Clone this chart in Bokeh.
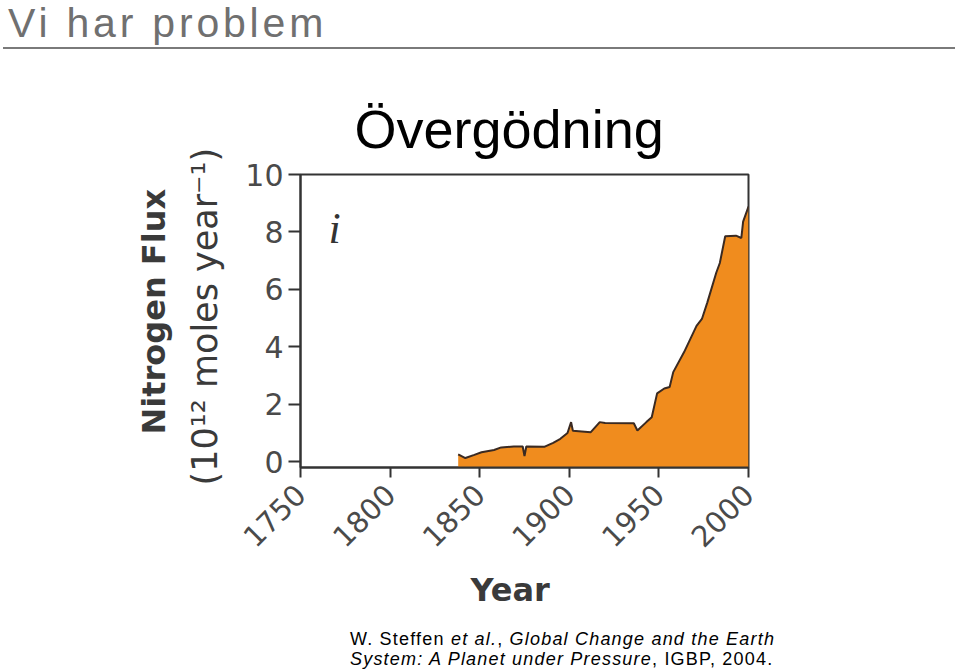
from math import pi
from bokeh.plotting import figure
from bokeh.models import Label, Div, FixedTicker, Range1d, Title
from bokeh.layouts import column
from bokeh.embed import file_html
from bokeh.resources import INLINE

# ---- data ----
years = [1838, 1842, 1847, 1851, 1858, 1862, 1869, 1874, 1875, 1876, 1886, 1891,
         1895, 1899, 1901, 1902, 1912, 1917, 1920, 1936, 1938, 1943, 1946, 1949,
         1953, 1956, 1958, 1964, 1971, 1974, 1977, 1982, 1984, 1987, 1993, 1996,
         1997, 2000]
flux = [0.26, 0.13, 0.24, 0.33, 0.41, 0.50, 0.53, 0.53, 0.20, 0.53, 0.52, 0.66,
        0.80, 1.00, 1.38, 1.08, 1.03, 1.38, 1.35, 1.34, 1.09, 1.38, 1.55, 2.38,
        2.55, 2.60, 3.12, 3.81, 4.73, 4.97, 5.54, 6.58, 6.92, 7.85, 7.87, 7.79,
        8.36, 8.88]
x_ticks = [1750, 1800, 1850, 1900, 1950, 2000]
y_ticks = [0, 2, 4, 6, 8, 10]
X_MIN, X_MAX = 1750, 2000
Y_MIN, Y_MAX = -0.2, 10

slide_title = "Vi har problem"
chart_title = "Övergödning"
y_label_1 = "Nitrogen Flux"
y_label_2 = "(10\u00b9\u00b2 moles year\u207b\u00b9)"
x_label = "Year"
panel_tag = "i"

AXIS_COLOR = "#333333"
FILL_COLOR = "#F08C1E"
LABEL_COLOR = "#3a3a3a"

# ---- header ----
header = Div(
    text=(
        "<div style=\"font-family:'Liberation Sans',Arial,sans-serif;font-size:41px;"
        "letter-spacing:3.8px;color:#707070;line-height:46px;height:46px;"
        "padding-left:8px;white-space:nowrap;\">" + slide_title + "</div>"
        "<div style=\"margin-top:1px;margin-left:3px;width:952px;height:2px;"
        "background:#7a7a7a;\"></div>"
    ),
    width=960, height=52, margin=0,
)

# ---- chart ----
p = figure(
    width=960, height=570,
    x_range=Range1d(X_MIN, X_MAX), y_range=Range1d(Y_MIN, Y_MAX),
    output_backend="svg", toolbar_location=None, title=None,
    min_border_left=300, min_border_right=212,
    min_border_top=122, min_border_bottom=155,
    background_fill_color="white", border_fill_color="white",
)
p.xgrid.visible = False
p.ygrid.visible = False
p.outline_line_color = AXIS_COLOR
p.outline_line_width = 2
p.outline_line_alpha = 1

p.varea(x=years, y1=Y_MIN, y2=flux, fill_color=FILL_COLOR, fill_alpha=1)
p.line(x=years, y=flux, line_color="#3a2a22", line_width=2)

for ax in (p.xaxis[0], p.yaxis[0]):
    ax.axis_line_color = AXIS_COLOR
    ax.axis_line_width = 2
    ax.major_tick_line_color = AXIS_COLOR
    ax.major_tick_line_width = 2
    ax.major_tick_in = 0
    ax.minor_tick_line_color = None
    ax.major_label_text_font = "DejaVu Sans"
    ax.major_label_text_color = "#4a4a4a"

p.xaxis.ticker = FixedTicker(ticks=x_ticks)
p.yaxis.ticker = FixedTicker(ticks=y_ticks)
p.xaxis.major_label_text_font_size = "29px"
p.yaxis.major_label_text_font_size = "30px"
p.xaxis.major_tick_out = 10
p.yaxis.major_tick_out = 12
p.xaxis.major_label_orientation = pi / 4
p.xaxis.major_label_standoff = 12
p.yaxis.major_label_standoff = 5

# chart title above the frame
p.add_layout(Title(text=chart_title, align="left", offset=54, standoff=32,
                   text_font="Liberation Sans", text_font_style="normal",
                   text_font_size="54px", text_color="black"), "above")
# x axis title
p.add_layout(Title(text=x_label, align="left", offset=170, standoff=18,
                   text_font="DejaVu Sans", text_font_style="bold",
                   text_font_size="32px", text_color=LABEL_COLOR), "below")
# y axis titles (inner line first, outer line second)
p.add_layout(Title(text=y_label_2, align="left", offset=-18, standoff=35,
                   text_font="DejaVu Sans", text_font_style="normal",
                   text_font_size="35px", text_color=LABEL_COLOR), "left")
p.add_layout(Title(text=y_label_1, align="left", offset=33, standoff=-14,
                   text_font="DejaVu Sans", text_font_style="bold",
                   text_font_size="32px", text_color=LABEL_COLOR), "left")

p.add_layout(Label(x=1765.6, y=8.12, text=panel_tag, text_align="left",
                   text_baseline="alphabetic", text_font="Liberation Serif",
                   text_font_style="italic", text_font_size="44px",
                   text_color="#333333"))

# ---- citation ----
cite = Div(
    text=(
        "<div style=\"font-family:'Liberation Sans',Arial,sans-serif;font-size:18px;"
        "letter-spacing:1.2px;color:#000;line-height:20px;padding-top:7px;"
        "padding-left:350px;white-space:nowrap;\">"
        "W. Steffen <i>et al.</i>, <i>Global Change and the Earth</i><br>"
        "<i>System: A Planet under Pressure</i>, IGBP, 2004."
        "</div>"
    ),
    width=960, height=50, margin=0,
)

layout = column(header, p, cite, spacing=0)
open("out.html", "w").write(file_html(layout, INLINE))
